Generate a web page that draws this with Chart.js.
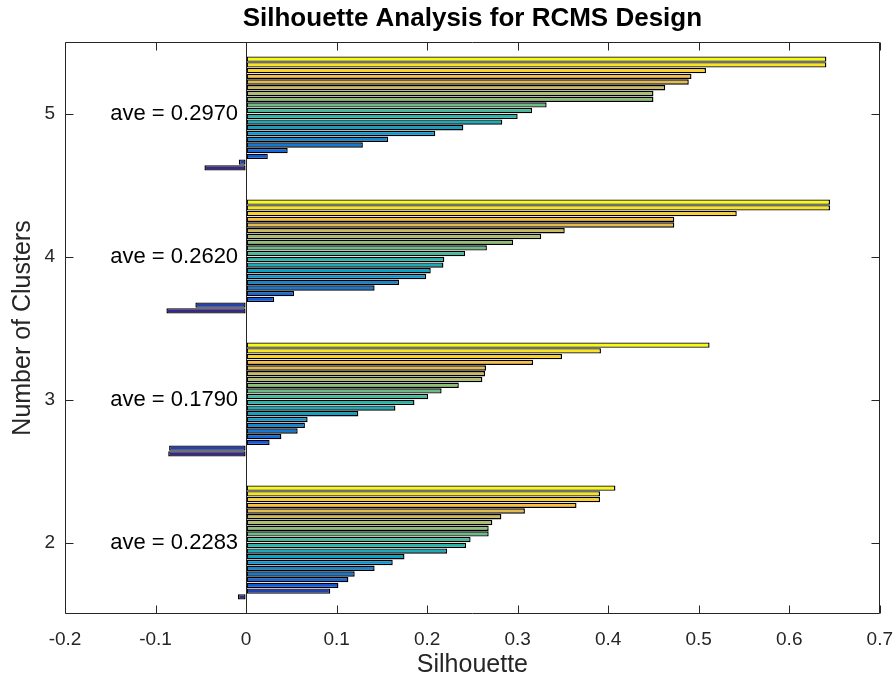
<!DOCTYPE html>
<html><head><meta charset="utf-8">
<script src="https://cdn.jsdelivr.net/npm/chart.js@4/dist/chart.umd.min.js"></script>
<style>html,body{margin:0;padding:0;background:#fff}canvas{display:block}</style>
</head><body>
<canvas id="c" width="893" height="684"></canvas>
<script>
// ---------- data ----------
const clusterCounts = [2, 3, 4, 5];
const cluster2 = [-0.009, 0.093, 0.102, 0.113, 0.120, 0.142, 0.162, 0.175, 0.222, 0.243, 0.248, 0.268, 0.268, 0.272, 0.282, 0.308, 0.365, 0.391, 0.391, 0.408];
const cluster3 = [-0.086, -0.085, 0.026, 0.039, 0.057, 0.065, 0.068, 0.124, 0.165, 0.186, 0.201, 0.216, 0.235, 0.261, 0.264, 0.265, 0.317, 0.349, 0.392, 0.512];
const cluster4 = [-0.088, -0.056, 0.031, 0.053, 0.142, 0.169, 0.199, 0.204, 0.218, 0.219, 0.242, 0.266, 0.295, 0.326, 0.352, 0.473, 0.473, 0.542, 0.645, 0.645];
const cluster5 = [-0.046, -0.008, 0.024, 0.046, 0.129, 0.157, 0.209, 0.240, 0.283, 0.300, 0.316, 0.332, 0.450, 0.450, 0.463, 0.489, 0.492, 0.508, 0.641, 0.641];
const aveLabels = ['ave = 0.2283', 'ave = 0.1790', 'ave = 0.2620', 'ave = 0.2970'];
const xTicks = [-0.2, -0.1, 0, 0.1, 0.2, 0.3, 0.4, 0.5, 0.6, 0.7];
const xTickLabels = ['-0.2', '-0.1', '0', '0.1', '0.2', '0.3', '0.4', '0.5', '0.6', '0.7'];
const yTicks = [2, 3, 4, 5];
const yTickLabels = ['2', '3', '4', '5'];
const titleText = 'Silhouette Analysis for RCMS Design';

// ---------- styling / layout constants ----------
const FONT = '"Liberation Sans", Arial, Helvetica, sans-serif';
const AXIS_COLOR = '#262626';
const BAR_STEP = 0.04;      // spacing between bars inside a group (axis units)
const AVE_X = -0.15;        // x position of the "ave" labels (axis units)
const TICK_LEN = 8;

// parula colormap anchors
const parula = [
  [0.000, 0.2081, 0.1663, 0.5292],
  [0.111, 0.0591, 0.3598, 0.8683],
  [0.238, 0.0779, 0.5040, 0.8384],
  [0.365, 0.0231, 0.6418, 0.7913],
  [0.492, 0.1801, 0.7177, 0.6424],
  [0.619, 0.5300, 0.7491, 0.4661],
  [0.746, 0.8185, 0.7327, 0.3498],
  [0.841, 0.9938, 0.7455, 0.2403],
  [0.905, 0.9789, 0.8271, 0.1633],
  [1.000, 0.9763, 0.9831, 0.0538]
];
function parulaAt(t) {
  for (let i = 1; i < parula.length; i++) {
    if (t <= parula[i][0]) {
      const a = parula[i - 1], b = parula[i];
      const f = (t - a[0]) / (b[0] - a[0]);
      const c = [1, 2, 3].map(j => Math.round(255 * (a[j] + f * (b[j] - a[j]))));
      return `rgb(${c[0]},${c[1]},${c[2]})`;
    }
  }
  const l = parula[parula.length - 1];
  return `rgb(${Math.round(l[1]*255)},${Math.round(l[2]*255)},${Math.round(l[3]*255)})`;
}

const groups = [cluster2, cluster3, cluster4, cluster5];

const datasets = clusterCounts.map((k, g) => {
  const vals = groups[g];
  const n = vals.length;
  return {
    label: 'k = ' + k,
    data: vals.map((v, i) => ({ x: v, y: k + (i - (n - 1) / 2) * BAR_STEP })),
    backgroundColor: vals.map((v, i) => parulaAt(i / (n - 1))),
    borderColor: '#000',
    borderWidth: 1.4,
    borderSkipped: false,
    grouped: false,
    barPercentage: 0.94,
    categoryPercentage: 1
  };
});

const overlay = {
  id: 'overlay',
  afterDatasetsDraw(chart) {
    const { ctx, chartArea: a, scales: { x, y } } = chart;
    ctx.save();
    ctx.strokeStyle = AXIS_COLOR;
    ctx.lineWidth = 1;
    const L = Math.round(a.left) + 0.5, R = Math.round(a.right) - 0.5;
    const T = Math.round(a.top) + 0.5, B = Math.round(a.bottom) - 0.5;
    ctx.beginPath();
    // baseline at 0
    const x0 = Math.round(x.getPixelForValue(0)) + 0.5;
    ctx.moveTo(x0, T); ctx.lineTo(x0, B);
    // box
    ctx.rect(L, T, R - L, B - T);
    // ticks (inside)
    xTicks.forEach(v => {
      const px = Math.round(x.getPixelForValue(v)) + 0.5;
      ctx.moveTo(px, B); ctx.lineTo(px, B - TICK_LEN);
      ctx.moveTo(px, T); ctx.lineTo(px, T + TICK_LEN);
    });
    yTicks.forEach(v => {
      const py = Math.round(y.getPixelForValue(v)) + 0.5;
      ctx.moveTo(L, py); ctx.lineTo(L + TICK_LEN, py);
      ctx.moveTo(R, py); ctx.lineTo(R - TICK_LEN, py);
    });
    ctx.stroke();
    // title, centred over the plot area
    ctx.font = 'bold 26px ' + FONT;
    ctx.fillStyle = '#000';
    ctx.textAlign = 'center';
    ctx.textBaseline = 'middle';
    ctx.fillText(titleText, (a.left + a.right) / 2, 19);
    // average labels
    ctx.font = '22px ' + FONT;
    ctx.textAlign = 'left';
    clusterCounts.forEach((k, i) => {
      ctx.fillText(aveLabels[i], x.getPixelForValue(AVE_X), y.getPixelForValue(k));
    });
    ctx.restore();
  }
};

Chart.defaults.font.family = FONT;

const hiddenGrid = { display: true, drawOnChartArea: false, drawTicks: true, color: 'rgba(0,0,0,0)' };

new Chart(document.getElementById('c'), {
  type: 'bar',
  data: { datasets },
  options: {
    indexAxis: 'y',
    responsive: false,
    animation: false,
    layout: { padding: { left: 0, right: 13, top: 42, bottom: 0 } },
    plugins: {
      legend: { display: false },
      tooltip: { enabled: false },
      title: { display: false }
    },
    scales: {
      x: {
        type: 'linear',
        min: -0.2, max: 0.7,
        afterBuildTicks: s => { s.ticks = xTicks.map(v => ({ value: v })); },
        afterFit: s => { s.height = 70; },
        grid: Object.assign({ tickLength: 14 }, hiddenGrid),
        border: { display: false },
        ticks: {
          autoSkip: false, maxRotation: 0,
          callback: (v, i) => xTickLabels[i],
          color: AXIS_COLOR, font: { size: 19 }, padding: 0
        },
        title: {
          display: true, text: 'Silhouette', color: AXIS_COLOR,
          font: { size: 25 }, padding: { top: 0, bottom: 4 }
        }
      },
      y: {
        type: 'linear',
        offset: false,
        min: 1.5, max: 5.5,
        afterBuildTicks: s => { s.ticks = yTicks.map(v => ({ value: v })); },
        afterFit: s => { s.width = 65; },
        grid: Object.assign({ tickLength: 10 }, hiddenGrid),
        border: { display: false },
        ticks: {
          autoSkip: false,
          callback: (v, i) => yTickLabels[i],
          color: AXIS_COLOR, font: { size: 19 }, padding: 0
        },
        title: {
          display: true, text: 'Number of Clusters', color: AXIS_COLOR,
          font: { size: 25 }, padding: { top: 8, bottom: 0 }
        }
      }
    }
  },
  plugins: [overlay]
});
</script>
</body></html>
